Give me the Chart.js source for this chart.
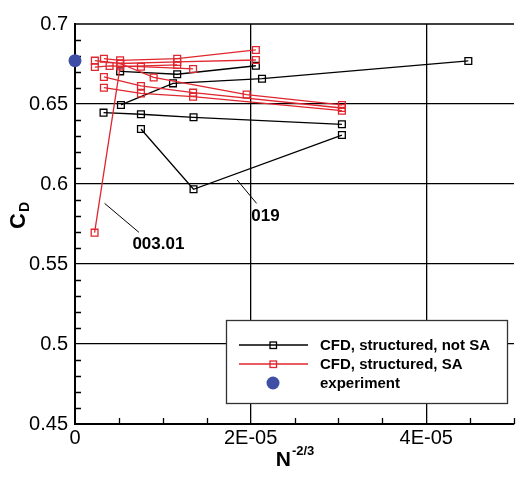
<!DOCTYPE html>
<html><head><meta charset="utf-8">
<script src="https://cdn.jsdelivr.net/npm/chart.js@4.4.0/dist/chart.umd.min.js"></script>
<style>html,body{margin:0;padding:0;background:#fff;}#wrap{width:516px;height:477px;}</style>
</head><body><div id="wrap"><canvas id="c" width="516" height="477"></canvas></div>
<script>
// ---- data (x = N^-2/3, y = C_D) ----
// CFD, structured, not SA (black) - separate cases
const nsA_x = [3.25e-6, 7.51e-6, 1.35e-5, 3.04e-5];
const nsA_y = [0.6446, 0.6436, 0.6417, 0.6373];
const nsB_x = [7.51e-6, 1.35e-5, 3.04e-5];
const nsB_y = [0.6344, 0.5967, 0.6306];
const nsC_x = [5.23e-6, 1.116e-5, 2.13e-5, 4.48e-5];
const nsC_y = [0.6494, 0.6629, 0.6658, 0.6769];
const nsD_x = [5.14e-6, 1.164e-5, 2.06e-5];
const nsD_y = [0.6704, 0.6686, 0.6739];
// CFD, structured, SA (red) - separate cases
const saA_x = [2.23e-6, 5.14e-6, 1.164e-5];
const saA_y = [0.5696, 0.6734, 0.6744];
const saB_x = [3.29e-6, 5.14e-6, 1.164e-5, 2.06e-5];
const saB_y = [0.6783, 0.6773, 0.6783, 0.6838];
const saC_x = [2.26e-6, 5.14e-6, 1.164e-5, 2.06e-5];
const saC_y = [0.6771, 0.6753, 0.6763, 0.6775];
const saD_x = [2.26e-6, 3.94e-6, 7.51e-6, 1.345e-5];
const saD_y = [0.6731, 0.6738, 0.6733, 0.6719];
const saE_x = [5.14e-6, 8.96e-6, 1.954e-5, 3.04e-5];
const saE_y = [0.6753, 0.6666, 0.6559, 0.6494];
const saF_x = [3.29e-6, 7.51e-6, 1.345e-5, 3.04e-5];
const saF_y = [0.6669, 0.6613, 0.6571, 0.6475];
const saG_x = [3.29e-6, 7.51e-6, 1.345e-5, 3.04e-5];
const saG_y = [0.6602, 0.6566, 0.6546, 0.6458];
// experiment
const exp_x = [0];
const exp_y = [0.6771];

// series labels
const seriesLabels = ['CFD, structured, not SA', 'CFD, structured, SA', 'experiment'];
// annotation labels (data coordinates)
const noteText = ['003.01', '019'];
const noteX = [9.5e-6, 2.17e-5];
const noteY = [0.5625, 0.5795];
const leadX0 = [3.37e-6, 1.847e-5];
const leadY0 = [0.5879, 0.6025];
const leadX1 = [7.28e-6, 2.068e-5];
const leadY1 = [0.5698, 0.5879];

const RED = '#e0262e', BLACK = '#000000', BLUE = '#3f4fa6';
const FONT = '"Liberation Sans", Arial, Helvetica, sans-serif';

function pts(xs, ys){ return xs.map((x,i)=>({x:x, y:ys[i]})); }
function lineSet(xs, ys, color, label){
  return { label: label, data: pts(xs, ys), showLine: true, borderColor: color, backgroundColor: 'rgba(0,0,0,0)',
    borderWidth: 1.3, pointStyle: 'rect', pointRadius: 4.8, pointBorderWidth: 1.3, pointBorderColor: color,
    pointBackgroundColor: 'rgba(0,0,0,0)', tension: 0 };
}
const datasets = [
  lineSet(saA_x, saA_y, RED, seriesLabels[1]),
  lineSet(saB_x, saB_y, RED, seriesLabels[1]),
  lineSet(saC_x, saC_y, RED, seriesLabels[1]),
  lineSet(saD_x, saD_y, RED, seriesLabels[1]),
  lineSet(saE_x, saE_y, RED, seriesLabels[1]),
  lineSet(saF_x, saF_y, RED, seriesLabels[1]),
  lineSet(saG_x, saG_y, RED, seriesLabels[1]),
  lineSet(nsA_x, nsA_y, BLACK, seriesLabels[0]),
  lineSet(nsB_x, nsB_y, BLACK, seriesLabels[0]),
  lineSet(nsC_x, nsC_y, BLACK, seriesLabels[0]),
  lineSet(nsD_x, nsD_y, BLACK, seriesLabels[0]),
  { label: seriesLabels[2], data: pts(exp_x, exp_y), showLine: false, pointStyle: 'circle', pointRadius: 6.5,
    pointBackgroundColor: BLUE, pointBorderColor: BLUE, pointBorderWidth: 0, clip: false }
];

function isMajorX(v){ return Math.round(v*1e6) % 20 === 0; }
function isMajorY(v){ return Math.round(v*100) % 5 === 0; }
function fmtX(v){ if (Math.abs(v) < 1e-12) return '0'; return v.toExponential(0).toUpperCase().replace(/E([+-])(\d)$/, 'E$10$2'); }

const decor = {
  id: 'decor',
  beforeDatasetsDraw(chart){
    const ctx = chart.ctx, ca = chart.chartArea, xs = chart.scales.x, ys = chart.scales.y;
    ctx.save();
    ctx.strokeStyle = '#000'; ctx.lineWidth = 1.3;
    ctx.beginPath();
    xs.ticks.forEach(t => { if (!isMajorX(t.value)) { const p = Math.round(xs.getPixelForValue(t.value)) + 0.5; ctx.moveTo(p, ca.bottom); ctx.lineTo(p, ca.bottom - 6); } });
    ys.ticks.forEach(t => { if (!isMajorY(t.value)) { const p = Math.round(ys.getPixelForValue(t.value)) + 0.5; ctx.moveTo(ca.left, p); ctx.lineTo(ca.left + 6, p); } });
    ctx.stroke();
    // top frame
    ctx.lineWidth = 1.5;
    ctx.beginPath(); ctx.moveTo(ca.left, ca.top); ctx.lineTo(ca.right, ca.top); ctx.stroke();
    // leader lines
    ctx.lineWidth = 1;
    ctx.beginPath();
    for (let i = 0; i < noteText.length; i++) {
      ctx.moveTo(xs.getPixelForValue(leadX0[i]), ys.getPixelForValue(leadY0[i]));
      ctx.lineTo(xs.getPixelForValue(leadX1[i]), ys.getPixelForValue(leadY1[i]));
    }
    ctx.stroke();
    ctx.restore();
  },
  afterDraw(chart){
    const ctx = chart.ctx, ca = chart.chartArea, xs = chart.scales.x, ys = chart.scales.y;
    ctx.save();
    // annotation text
    ctx.fillStyle = '#000'; ctx.font = 'bold 17px ' + FONT; ctx.textAlign = 'center'; ctx.textBaseline = 'middle';
    for (let i = 0; i < noteText.length; i++) ctx.fillText(noteText[i], xs.getPixelForValue(noteX[i]), ys.getPixelForValue(noteY[i]));
    // legend box
    const bx = ca.right - 288, by = ca.bottom - 104, bw = 281, bh = 83;
    ctx.fillStyle = '#fff'; ctx.fillRect(bx, by, bw, bh);
    ctx.strokeStyle = '#333'; ctx.lineWidth = 1.3; ctx.strokeRect(bx + 0.5, by + 0.5, bw, bh);
    const rows = [by + 25, by + 44, by + 63];
    const cols = [BLACK, RED];
    ctx.font = 'bold 15px ' + FONT; ctx.textAlign = 'left'; ctx.textBaseline = 'middle';
    for (let i = 0; i < 2; i++) {
      ctx.strokeStyle = cols[i]; ctx.lineWidth = 1.3;
      ctx.beginPath(); ctx.moveTo(bx + 13, rows[i]); ctx.lineTo(bx + 82, rows[i]); ctx.stroke();
      ctx.strokeRect(bx + 44, rows[i] - 3, 6.5, 6.5);
      ctx.fillStyle = '#000'; ctx.fillText(seriesLabels[i], bx + 94, rows[i] + 1);
    }
    ctx.fillStyle = BLUE; ctx.beginPath(); ctx.arc(bx + 47, rows[2], 6.5, 0, Math.PI * 2); ctx.fill();
    ctx.fillStyle = '#000'; ctx.fillText(seriesLabels[2], bx + 94, rows[2] + 1);
    // x axis title N^-2/3
    const cx = (ca.left + ca.right) / 2, ty = 459;
    ctx.font = 'bold 21px ' + FONT;
    const wN = ctx.measureText('N').width;
    ctx.font = 'bold 13px ' + FONT;
    const wS = ctx.measureText('-2/3').width;
    const x0 = cx - (wN + wS) / 2;
    ctx.textBaseline = 'alphabetic';
    ctx.font = 'bold 21px ' + FONT; ctx.fillText('N', x0, ty + 7);
    ctx.font = 'bold 13px ' + FONT; ctx.fillText('-2/3', x0 + wN + 1, ty - 4);
    // y axis title C_D
    ctx.translate(25, 216); ctx.rotate(-Math.PI / 2);
    ctx.font = 'bold 22px ' + FONT;
    const wC = ctx.measureText('C').width;
    ctx.fillText('C', -wC / 2 - 5, 0);
    ctx.font = 'bold 14px ' + FONT; ctx.fillText('D', wC / 2 - 4, 4);
    ctx.restore();
  }
};

new Chart(document.getElementById('c'), {
  type: 'scatter',
  data: { datasets: datasets },
  options: {
    responsive: false, animation: false,
    layout: { autoPadding: false, padding: { top: 24, right: 2, left: 0, bottom: 0 } },
    plugins: { legend: { display: false }, tooltip: { enabled: false } },
    scales: {
      x: {
        type: 'linear', min: 0, max: 5e-5,
        afterFit(s){ s.height = 53; s.paddingRight = 0; s.paddingLeft = 0; },
        ticks: { stepSize: 5e-6, autoSkip: false, maxRotation: 0, padding: 2, color: '#000',
          font: { family: FONT, size: 20 },
          callback(v){ return isMajorX(v) ? fmtX(v) : ''; } },
        grid: { drawTicks: false, lineWidth: 1.3,
          color(c){ const v = c.tick ? c.tick.value : 0; return (isMajorX(v) && v > 1e-9 && v < 4.9e-5) ? '#000' : 'rgba(0,0,0,0)'; } },
        border: { display: true, color: '#000', width: 2 }
      },
      y: {
        type: 'linear', min: 0.45, max: 0.7,
        afterFit(s){ s.width = 75; s.paddingTop = 0; s.paddingBottom = 0; },
        ticks: { stepSize: 0.01, autoSkip: false, padding: 7, color: '#000',
          font: { family: FONT, size: 20 },
          callback(v){ return isMajorY(v) ? String(Number(v.toFixed(2))) : ''; } },
        grid: { drawTicks: false, lineWidth: 1.3,
          color(c){ const v = c.tick ? c.tick.value : 0; return (isMajorY(v) && v > 0.4501 && v < 0.6999) ? '#000' : 'rgba(0,0,0,0)'; } },
        border: { display: true, color: '#000', width: 2 }
      }
    }
  },
  plugins: [decor]
});
</script></body></html>
